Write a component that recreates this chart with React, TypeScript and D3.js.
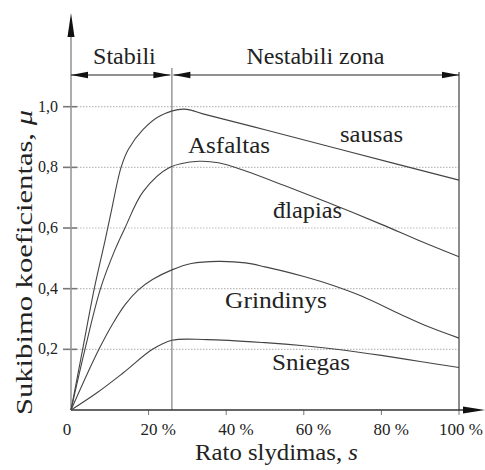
import React, { useRef, useEffect } from 'react';
import * as d3 from 'd3';

// slip s (%) vs friction coefficient mu
const sausas = [[0, 0], [3, 0.2], [6, 0.4], [8.8, 0.56], [10.3, 0.65], [12.9, 0.8], [14.8, 0.86], [18.6, 0.925], [23, 0.97], [29, 0.992], [35, 0.973], [50, 0.924], [70, 0.857], [100, 0.758]];
const slapias = [[0, 0], [3.6, 0.2], [7.6, 0.4], [11.3, 0.527], [13.9, 0.6], [18.6, 0.72], [25.5, 0.8], [33, 0.82], [38, 0.815], [45, 0.788], [55, 0.74], [67, 0.68], [80, 0.612], [90, 0.557], [100, 0.505]];
const grindinys = [[0, 0], [3.5, 0.1], [7.2, 0.2], [10.8, 0.285], [14, 0.348], [17.3, 0.395], [21, 0.43], [26, 0.462], [31, 0.483], [38, 0.49], [45, 0.485], [50, 0.472], [55, 0.457], [60, 0.44], [67, 0.413], [75, 0.375], [85, 0.315], [92, 0.275], [100, 0.237]];
const sniegas = [[0, 0], [6.6, 0.056], [13.4, 0.122], [21, 0.2], [26, 0.23], [35, 0.232], [50, 0.222], [60, 0.212], [70, 0.198], [80, 0.18], [90, 0.16], [100, 0.14]];

const xTicks = [0, 20, 40, 60, 80, 100];
const xTickLabels = ['0', '20 %', '40 %', '60 %', '80 %', '100 %'];
const yTicks = [0.2, 0.4, 0.6, 0.8, 1.0];
const yTickLabels = ['0,2', '0,4', '0,6', '0,8', '1,0'];

const zoneBoundary = 26;
const zoneLabels = ['Stabili', 'Nestabili zona'];

const font = "'Liberation Serif', 'DejaVu Serif', 'Times New Roman', serif";

const App = () => {
    const svgRef = useRef(null);

    useEffect(() => {
        const W = 485, H = 470;
        const svg = d3.select(svgRef.current).attr('width', W).attr('height', H)
            .attr('font-family', font);
        svg.selectAll('*').remove();

        const x = d3.scaleLinear().domain([0, 100]).range([71, 459]);
        const y = d3.scaleLinear().domain([0, 1]).range([410, 106.7]);

        // grid (dotted)
        svg.append('g').selectAll('line').data(yTicks).enter().append('line')
            .attr('x1', x(0) + 6).attr('x2', x(100))
            .attr('y1', d => y(d)).attr('y2', d => y(d))
            .attr('stroke', '#bbb').attr('stroke-width', 1.2).attr('stroke-dasharray', '1.5,1.5');

        // y tick marks
        svg.append('g').selectAll('line').data(yTicks).enter().append('line')
            .attr('x1', x(0) - 8).attr('x2', x(0) + 6)
            .attr('y1', d => y(d)).attr('y2', d => y(d))
            .attr('stroke', '#777').attr('stroke-width', 1.6);

        svg.append('g').selectAll('text').data(yTicks).enter().append('text')
            .attr('x', 58).attr('y', d => y(d) + 5)
            .attr('text-anchor', 'end')
            .attr('font-family', font).attr('font-size', 16).attr('fill', '#222')
            .text((d, i) => yTickLabels[i]);

        // x ticks
        svg.append('g').selectAll('line').data(xTicks.slice(1)).enter().append('line')
            .attr('x1', d => x(d)).attr('x2', d => x(d))
            .attr('y1', y(0)).attr('y2', y(0) + 5)
            .attr('stroke', '#777').attr('stroke-width', 1);

        svg.append('g').selectAll('text').data(xTicks).enter().append('text')
            .attr('x', (d, i) => i === 0 ? x(d) - 4 : (d === 100 ? W - 2 : x(d) - 8))
            .attr('y', 435)
            .attr('text-anchor', (d, i) => i === 0 ? 'middle' : (d === 100 ? 'end' : 'start'))
            .attr('font-family', font).attr('font-size', 17).attr('fill', '#222')
            .text((d, i) => xTickLabels[i]);

        // vertical lines
        svg.append('line').attr('x1', x(zoneBoundary)).attr('x2', x(zoneBoundary))
            .attr('y1', y(0)).attr('y2', 68).attr('stroke', '#888').attr('stroke-width', 1.3);
        svg.append('line').attr('x1', x(100)).attr('x2', x(100))
            .attr('y1', y(0)).attr('y2', 72).attr('stroke', '#666').attr('stroke-width', 1.5);

        // axes
        svg.append('line').attr('x1', x(0)).attr('x2', x(0))
            .attr('y1', y(0)).attr('y2', 30).attr('stroke', '#999').attr('stroke-width', 1.6);
        svg.append('path').attr('d', `M${x(0)},13 L${x(0) - 3.5},37 L${x(0) + 3.5},37 Z`).attr('fill', '#111');
        svg.append('line').attr('x1', x(0)).attr('x2', 470)
            .attr('y1', y(0)).attr('y2', y(0)).attr('stroke', '#333').attr('stroke-width', 1.3);
        svg.append('path').attr('d', `M485,${y(0)} L463,${y(0) - 3.5} L463,${y(0) + 3.5} Z`).attr('fill', '#111');

        // zone arrows
        const ay = 75;
        const head = (tip, dir) => `M${tip},${ay} L${tip - dir * 17},${ay - 3.2} L${tip - dir * 17},${ay + 3.2} Z`;
        const zones = [[0, zoneBoundary], [zoneBoundary, 100]];
        zones.forEach(([a, b], i) => {
            const x1 = x(a) + (i === 1 ? 1.5 : 0), x2 = x(b) - (i === 0 ? 1.5 : 0);
            svg.append('line').attr('x1', x1).attr('x2', x2).attr('y1', ay).attr('y2', ay)
                .attr('stroke', '#222').attr('stroke-width', 1.2);
            svg.append('path').attr('d', head(x1, -1)).attr('fill', '#111');
            svg.append('path').attr('d', head(x2, 1)).attr('fill', '#111');
            svg.append('text').attr('x', (x(a) + x(b)) / 2 + (i === 0 ? 3 : 0)).attr('y', 64)
                .attr('text-anchor', 'middle')
                .attr('font-family', font).attr('font-size', 24).attr('fill', '#222')
                .text(zoneLabels[i]);
        });

        // curves
        const line = d3.line().x(d => x(d[0])).y(d => y(d[1])).curve(d3.curveCatmullRom.alpha(0.5));
        [sausas, slapias, grindinys, sniegas].forEach(s => {
            svg.append('path').datum(s).attr('d', line)
                .attr('fill', 'none').attr('stroke', '#444').attr('stroke-width', 1.1);
        });

        // curve labels
        const labels = [
            ['sausas', 340, 142, 63],
            ['Asfaltas', 188, 153, 82],
            ['đlapias', 273, 218, 69],
            ['Grindinys', 225, 308, 102],
            ['Sniegas', 272, 370, 78],
        ];
        labels.forEach(([t, lx, ly, len]) => {
            svg.append('text').attr('x', lx).attr('y', ly)
                .attr('textLength', len).attr('lengthAdjust', 'spacingAndGlyphs')
                .attr('font-family', font).attr('font-size', 24).attr('fill', '#222')
                .text(t);
        });

        // axis titles
        const xt = svg.append('text').attr('x', 195).attr('y', 460)
            .attr('textLength', 163).attr('lengthAdjust', 'spacingAndGlyphs')
            .attr('font-family', font).attr('font-size', 23).attr('fill', '#222');
        xt.append('tspan').text('Rato slydimas, ');
        xt.append('tspan').attr('font-style', 'italic').text('s');

        const yt = svg.append('text').attr('transform', 'translate(32,415) rotate(-90)')
            .attr('textLength', 305).attr('lengthAdjust', 'spacingAndGlyphs')
            .attr('font-family', font).attr('font-size', 23).attr('fill', '#222');
        yt.append('tspan').text('Sukibimo koeficientas, ');
        yt.append('tspan').attr('font-style', 'italic').text('μ');
    }, []);

    return (
        <div>
            <svg ref={svgRef} style={{ position: 'absolute', left: 0, top: 0, background: '#fff' }} />
        </div>
    );
};

export default App;
